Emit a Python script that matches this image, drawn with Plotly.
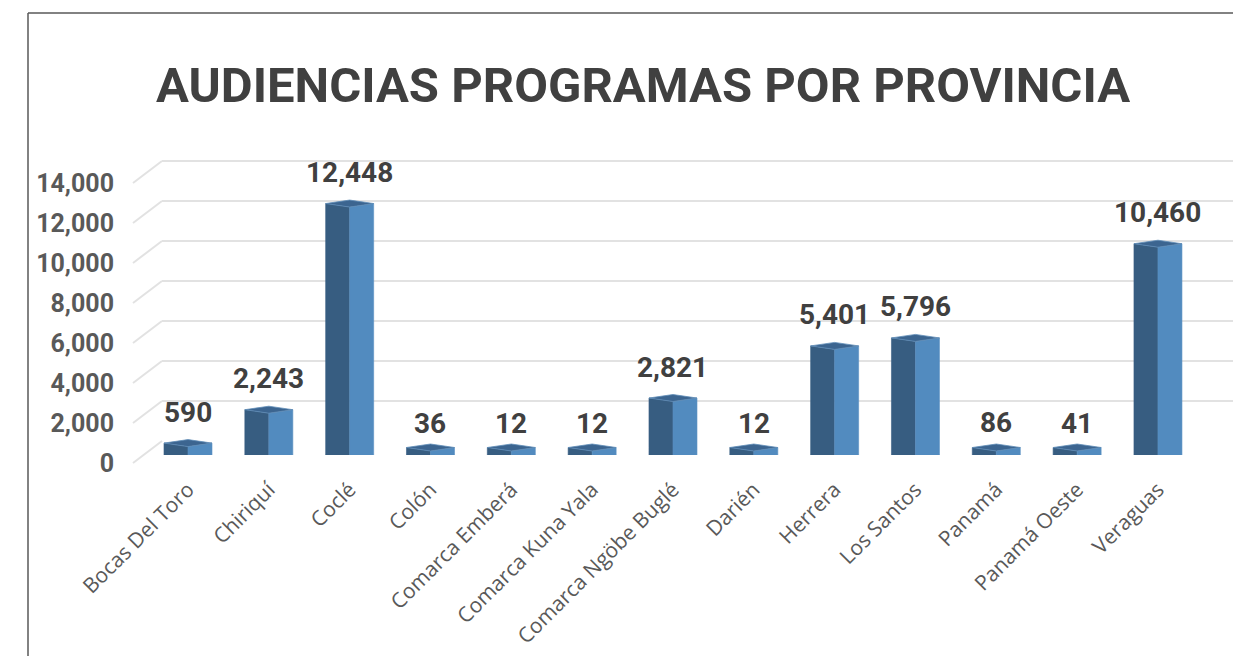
import plotly.graph_objects as go

# ---------------- data ----------------
provinces = ["Bocas Del Toro", "Chiriquí", "Coclé", "Colón", "Comarca Emberá",
             "Comarca Kuna Yala", "Comarca Ngöbe Buglé", "Darién", "Herrera",
             "Los Santos", "Panamá", "Panamá Oeste", "Veraguas"]
audiences = [590, 2243, 12448, 36, 12, 12, 2821, 12, 5401, 5796, 86, 41, 10460]
y_ticks = [0, 2000, 4000, 6000, 8000, 10000, 12000, 14000]
title_text = "AUDIENCIAS PROGRAMAS POR PROVINCIA"

# ---------------- geometry helpers ----------------
W, H = 1241, 656
OFF = 8           # page body margin compensation
K = 0.0202        # px per unit value
YMAX = 16000


def px_x(x):
    return (x - OFF) / W


def px_y(y):
    return 1 - (y - OFF) / H


step = 80.83
first_c = 188
x_left = first_c - step / 2
x_right = first_c + step * (len(provinces) - 0.5)

bar_base = 455      # px of value 0 for bars
back_base = 441     # px of value 0 on back wall
front_base = 463    # px of value 0 on front (labels)
KG = 0.02           # gridline px per unit

hw = 0.297          # half bar width in category units
d = 3.5 / K         # depth offset in value units
min_h = 7.5 / K     # minimum visible bar thickness

fig = go.Figure()

# back-wall gridlines (subplot xy)
fig.add_trace(go.Scatter(x=[0], y=[0], mode="markers", marker=dict(opacity=0),
                         hoverinfo="skip", showlegend=False, xaxis="x", yaxis="y"))

# 3D-looking bars built from data
left_x, left_y, right_x, right_y, top_x, top_y = [], [], [], [], [], []
for i, v in enumerate(audiences):
    h = max(v, min_h)
    left_x += [i - hw, i, i, i - hw, i - hw, None]
    left_y += [0, -d, h - d, h, 0, None]
    right_x += [i, i + hw, i + hw, i, i, None]
    right_y += [-d, 0, h, h - d, -d, None]
    top_x += [i - hw, i, i + hw, i, i - hw, None]
    top_y += [h, h - d, h, h + d, h, None]

fig.add_trace(go.Scatter(x=left_x, y=left_y, fill="toself", mode="lines",
                         line=dict(color="#395E83", width=0.6),
                         fillcolor="#375D81", hoverinfo="skip", showlegend=False,
                         xaxis="x2", yaxis="y2"))
fig.add_trace(go.Scatter(x=right_x, y=right_y, fill="toself", mode="lines",
                         line=dict(color="#5A90C2", width=0.6),
                         fillcolor="#528BBF", hoverinfo="skip", showlegend=False,
                         xaxis="x2", yaxis="y2"))
fig.add_trace(go.Scatter(x=top_x, y=top_y, fill="toself", mode="lines",
                         line=dict(color="#5F8DB8", width=0.8),
                         fillcolor="#3C6590", hoverinfo="skip", showlegend=False,
                         xaxis="x2", yaxis="y2"))

# invisible trace for tick-label axis
fig.add_trace(go.Scatter(x=[0], y=[0], mode="markers", marker=dict(opacity=0),
                         hoverinfo="skip", showlegend=False, xaxis="x2", yaxis="y3"))

# value labels
for i, v in enumerate(audiences):
    fig.add_annotation(x=i, y=v, xref="x2", yref="y2", text=f"{v:,}",
                       showarrow=False, yshift=31, yanchor="middle",
                       font=dict(family="Roboto", size=28, color="#404040",
                                 weight="bold"))

# slanted side-wall gridline segments
shapes = []
for t in y_ticks:
    shapes.append(dict(type="line", xref="paper", yref="paper",
                       x0=px_x(133), y0=px_y(front_base - t * KG),
                       x1=px_x(162), y1=px_y(back_base - t * KG),
                       line=dict(color="#E2E2E2", width=2), layer="below"))
# frame
shapes.append(dict(type="line", xref="paper", yref="paper",
                   x0=px_x(28), y0=px_y(13), x1=1, y1=px_y(13),
                   line=dict(color="#595959", width=1.5)))
shapes.append(dict(type="line", xref="paper", yref="paper",
                   x0=px_x(28), y0=px_y(13), x1=px_x(28), y1=0,
                   line=dict(color="#595959", width=1.5)))

fig.add_annotation(text=title_text, x=px_x(643), y=px_y(85), xref="paper",
                   yref="paper", showarrow=False, xanchor="center",
                   yanchor="middle",
                   font=dict(family="Roboto", size=49,
                             color="#404040", weight="bold"))

fig.update_layout(
    width=W, height=H,
    margin=dict(l=0, r=0, t=0, b=0, pad=0, autoexpand=False),
    paper_bgcolor="white", plot_bgcolor="rgba(0,0,0,0)",
    showlegend=False,
    shapes=shapes,
    xaxis=dict(domain=[px_x(162), 1.0], range=[0, 1], visible=False,
               fixedrange=True, automargin=False),
    yaxis=dict(domain=[px_y(back_base), px_y(back_base - YMAX * KG)],
               range=[0, YMAX], tickvals=y_ticks, showgrid=True,
               gridcolor="#E2E2E2", gridwidth=2, zeroline=False,
               showticklabels=False, showline=False, anchor="x",
               automargin=False),
    xaxis2=dict(domain=[px_x(x_left), px_x(x_right)], range=[-0.5, 12.5],
                tickvals=list(range(len(provinces))), ticktext=provinces,
                tickangle=-45, showgrid=False, zeroline=False, showline=False,
                ticks="outside", ticklen=13, tickcolor="rgba(0,0,0,0)",
                tickfont=dict(family="Open Sans", size=21, color="#595959"),
                anchor="y2", automargin=False),
    yaxis2=dict(domain=[px_y(bar_base), px_y(bar_base - YMAX * K)],
                range=[0, YMAX], visible=False, anchor="x2", automargin=False),
    yaxis3=dict(domain=[px_y(front_base), px_y(front_base - YMAX * KG)],
                range=[0, YMAX], tickvals=y_ticks,
                ticktext=[f"{t:,}" for t in y_ticks],
                anchor="free", position=px_x(133), side="left",
                showgrid=False, zeroline=False, showline=False,
                ticks="outside", ticklen=14, tickcolor="rgba(0,0,0,0)",
                automargin=False,
                tickfont=dict(family="Roboto", size=25, color="#595959",
                              weight="bold")),
)

fig.write_html("out.html")
